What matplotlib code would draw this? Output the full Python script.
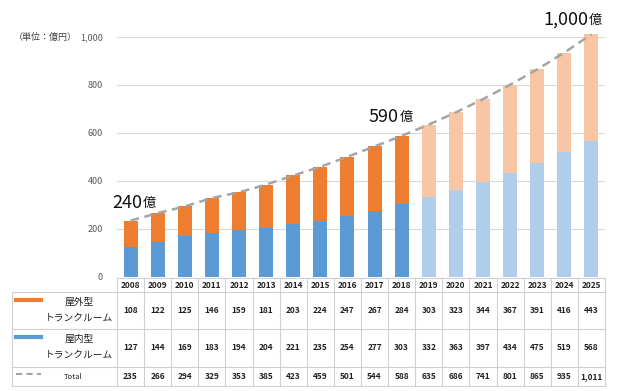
import matplotlib
matplotlib.use("Agg")
import matplotlib.pyplot as plt
from matplotlib.transforms import blended_transform_factory
from matplotlib.lines import Line2D

plt.rcParams['font.family'] = ['Noto Sans CJK JP', 'DejaVu Sans']

years = [str(y) for y in range(2008, 2026)]
outdoor = [108, 122, 125, 146, 159, 181, 203, 224, 247, 267, 284, 303, 323, 344, 367, 391, 416, 443]
indoor = [127, 144, 169, 183, 194, 204, 221, 235, 254, 277, 303, 332, 363, 397, 434, 475, 519, 568]
total = [235, 266, 294, 329, 353, 385, 423, 459, 501, 544, 588, 635, 686, 741, 801, 865, 935, 1011]
forecast_start = 2019
yticks = [0, 200, 400, 600, 800, 1000]
annotations = ["240", "590", "1,000"]

C_OUT = '#ED7D31'
C_IN = '#5B9BD5'
C_OUT_F = '#F8C6A4'
C_IN_F = '#B0CEEC'
C_LINE = '#A5A5A5'
C_GRID = '#D9D9D9'
C_TAB = '#D0D0D0'

W, H = 620, 391
fig = plt.figure(figsize=(W / 100, H / 100), dpi=100)
fx = lambda px: px / W
fy = lambda py: 1 - py / H

ax = fig.add_axes([fx(117), fy(277), fx(605) - fx(117), fy(37) - fy(277)])
n = len(years)
xs = list(range(n))
ax.set_xlim(-0.5, n - 0.5)
ax.set_ylim(0, 1000)

fc_in = [C_IN if int(y) < forecast_start else C_IN_F for y in years]
fc_out = [C_OUT if int(y) < forecast_start else C_OUT_F for y in years]
ax.bar(xs, indoor, width=0.52, color=fc_in, zorder=2, clip_on=False)
ax.bar(xs, outdoor, bottom=indoor, width=0.52, color=fc_out, zorder=2, clip_on=False)
ax.plot(xs, total, color=C_LINE, lw=1.8, ls=(0, (3.5, 2.2)), zorder=3, clip_on=False)

ax.set_yticks(yticks)
ax.set_yticklabels([f"{v:,}" for v in yticks], fontsize=6.5, color='#595959')
ax.yaxis.grid(True, color=C_GRID, lw=0.8)
ax.set_axisbelow(True)
ax.tick_params(axis='y', length=0, pad=10)
ax.set_xticks([])
for s in ax.spines.values():
    s.set_visible(False)

fig.text(fx(14), fy(37), "（単位：億円）", fontsize=6.5, color='#404040', va='center', ha='left')

ann_pos = [(112, 203), (369, 117), (543, 20)]
fig.canvas.draw()
for txt, (px, py) in zip(annotations, ann_pos):
    t = fig.text(fx(px), fy(py), txt, fontsize=13, color='#111111', va='center', ha='left')
    bb = t.get_window_extent(renderer=fig.canvas.get_renderer())
    fig.text((bb.x1 + 0.5) / W, fy(py) - 0.002, "億", fontsize=9.5, color='#111111', va='center', ha='left')

# table
tr = blended_transform_factory(ax.transData, fig.transFigure)
row_y = [278, 292, 329, 367, 386]

fig.add_artist(Line2D([-0.5, n - 0.5], [fy(row_y[0]), fy(row_y[0])], transform=tr, color=C_TAB, lw=0.8))
for y in row_y[1:]:
    fig.add_artist(Line2D([fx(12), fx(605)], [fy(y), fy(y)], transform=fig.transFigure, color=C_TAB, lw=0.8))
for i in range(n + 1):
    fig.add_artist(Line2D([i - 0.5, i - 0.5], [fy(row_y[0]), fy(row_y[-1])], transform=tr, color=C_TAB, lw=0.8))
fig.add_artist(Line2D([fx(12), fx(12)], [fy(row_y[1]), fy(row_y[-1])], transform=fig.transFigure, color=C_TAB, lw=0.8))

rows = [years, [f"{v:,}" for v in outdoor], [f"{v:,}" for v in indoor], [f"{v:,}" for v in total]]
for r, vals in enumerate(rows):
    yc = fy((row_y[r] + row_y[r + 1]) / 2)
    for i in range(n):
        ax.text(i, yc, vals[i], transform=tr, ha='center', va='center',
                fontsize=6, fontweight='bold', color='#222222', clip_on=False)

# row labels
fig.add_artist(Line2D([fx(16), fx(41)], [fy(300), fy(300)], transform=fig.transFigure, color=C_OUT, lw=3))
fig.add_artist(Line2D([fx(16), fx(41)], [fy(337), fy(337)], transform=fig.transFigure, color=C_IN, lw=3))
fig.add_artist(Line2D([fx(16), fx(41)], [fy(374), fy(374)], transform=fig.transFigure, color=C_LINE, lw=1.5,
                      ls=(0, (3, 2))))
fig.text(fx(79), fy(302), "屋外型", fontsize=7, ha='center', va='center', color='#222222')
fig.text(fx(79), fy(318), "トランクルーム", fontsize=7, ha='center', va='center', color='#222222')
fig.text(fx(79), fy(339), "屋内型", fontsize=7, ha='center', va='center', color='#222222')
fig.text(fx(79), fy(355), "トランクルーム", fontsize=7, ha='center', va='center', color='#222222')
fig.text(fx(73), fy(377), "Total", fontsize=5.5, ha='center', va='center', color='#222222')

fig.savefig("out.png", dpi=100)
